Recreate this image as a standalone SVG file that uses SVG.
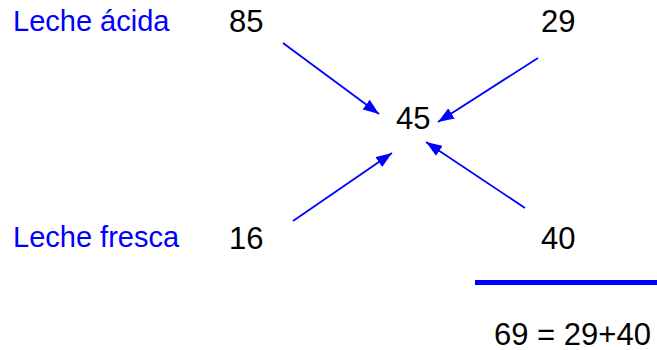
<svg xmlns="http://www.w3.org/2000/svg" width="657" height="350" viewBox="0 0 657 350">
  <style>
    .lbl { font-family: "Liberation Sans", Arial, sans-serif; font-size: 29px; fill: #0000ff; }
    .num { font-family: "Liberation Sans", Arial, sans-serif; font-size: 31px; fill: #000000; }
    .conn { stroke: #0000ff; stroke-width: 1.8; fill: none; marker-end: url(#head); }
  </style>
  <defs>
    <marker id="head" viewBox="0 0 16 12" refX="16" refY="6" markerWidth="16" markerHeight="12" markerUnits="userSpaceOnUse" orient="auto">
      <path d="M0,0 L16,6 L0,12 Z" fill="#0000ff"/>
    </marker>
  </defs>
  <rect width="657" height="350" fill="#ffffff"/>

  <g id="label-acida"><text class="lbl" x="13" y="31">Leche ácida</text></g>
  <g id="label-fresca"><text class="lbl" x="13" y="247">Leche fresca</text></g>

  <g id="n85"><text class="num" x="229" y="32">85</text></g>
  <g id="n29"><text class="num" x="541" y="32">29</text></g>
  <g id="n45"><text class="num" x="396" y="129">45</text></g>
  <g id="n16"><text class="num" x="229" y="249">16</text></g>
  <g id="n40"><text class="num" x="541" y="249">40</text></g>

  <g id="connectors">
    <line class="conn" x1="283" y1="43" x2="379" y2="114"/>
    <line class="conn" x1="538" y1="58" x2="438" y2="122"/>
    <line class="conn" x1="293" y1="221" x2="392" y2="153"/>
    <line class="conn" x1="525" y1="208" x2="426" y2="142"/>
  </g>

  <g id="total">
    <rect x="475" y="280" width="182" height="5" fill="#0000ff"/>
    <text class="num" x="494" y="345">69 = 29+40</text>
  </g>
</svg>
